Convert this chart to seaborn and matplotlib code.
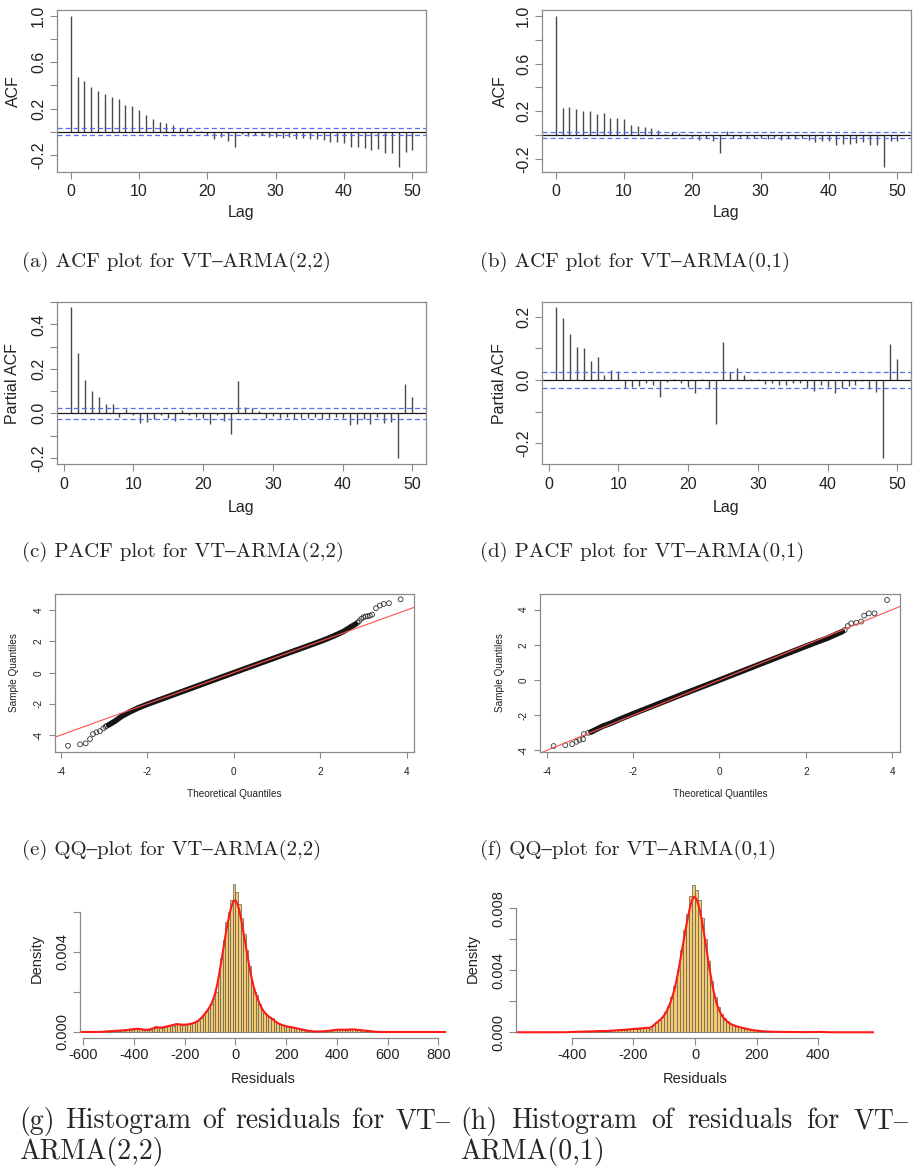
import numpy as np
import pandas as pd
import matplotlib
matplotlib.use("Agg")
import matplotlib.pyplot as plt
import seaborn as sns

W, H = 916, 1166

# ---------------- ACF / PACF ----------------
acf_lags = list(range(0, 51))
pacf_lags = list(range(1, 51))

acf_a = [1.0, 0.475, 0.435, 0.383, 0.354, 0.326, 0.297, 0.280, 0.231, 0.222,
         0.187, 0.141, 0.112, 0.089, 0.078, 0.055, 0.032, 0.032, 0.014, 0.005,
         -0.029, -0.060, -0.049, -0.078, -0.135, -0.023, -0.037, -0.029, -0.029, -0.049,
         -0.043, -0.055, -0.043, -0.060, -0.055, -0.060, -0.060, -0.072, -0.089, -0.084,
         -0.095, -0.130, -0.135, -0.141, -0.158, -0.147, -0.182, -0.182, -0.300, -0.176,
         -0.153]
acf_b = [1.0, 0.229, 0.238, 0.218, 0.201, 0.204, 0.176, 0.182, 0.140, 0.145,
         0.137, 0.084, 0.078, 0.064, 0.062, 0.042, 0.010, 0.022, 0.018, 0.005,
         -0.020, -0.042, -0.025, -0.048, -0.148, 0.036, -0.022, -0.014, -0.022, -0.025,
         -0.022, -0.036, -0.025, -0.042, -0.036, -0.031, -0.025, -0.042, -0.059, -0.048,
         -0.048, -0.081, -0.076, -0.076, -0.070, -0.056, -0.087, -0.087, -0.266, -0.053,
         -0.050]
pacf_c = [0.477, 0.270, 0.150, 0.102, 0.072, 0.042, 0.042, -0.015, 0.018, -0.009,
          -0.045, -0.037, -0.025, -0.006, -0.022, -0.034, 0.015, -0.009, -0.015, -0.022,
          -0.048, -0.006, -0.033, -0.095, 0.146, 0.027, 0.022, 0.012, -0.020, -0.012,
          -0.022, -0.015, -0.025, -0.022, -0.022, -0.015, -0.025, -0.022, -0.015, -0.022,
          -0.052, -0.048, -0.025, -0.048, -0.018, -0.042, -0.037, -0.203, 0.132, 0.072]
pacf_d = [0.229, 0.195, 0.145, 0.105, 0.102, 0.060, 0.072, 0.016, 0.032, 0.027,
          -0.026, -0.021, -0.019, -0.008, -0.016, -0.053, -0.005, 0.004, -0.008, -0.021,
          -0.040, 0.002, -0.029, -0.139, 0.121, 0.024, 0.037, 0.015, 0.002, 0.002,
          -0.014, -0.008, -0.017, -0.015, -0.008, -0.008, -0.026, -0.034, -0.016, -0.021,
          -0.042, -0.026, -0.019, -0.016, -0.002, -0.027, -0.037, -0.247, 0.113, 0.066]
conf_a, conf_b, conf_c, conf_d = 0.029, 0.026, 0.026, 0.026

# ---------------- QQ plots ----------------
e_band_x = [-2.9, -2.75, -2.6, -2.4, -2.2, -2.0, -1.0, 0.0, 1.0, 2.0, 2.2, 2.4, 2.55, 2.7, 2.82]
e_band_y = [-3.35, -3.1, -2.8, -2.5, -2.24, -2.02, -1.01, 0.0, 1.0, 2.0, 2.22, 2.46, 2.66, 2.92, 3.12]
e_tail_x = [-3.84, -3.56, -3.43, -3.33, -3.26, -3.18, -3.10, -3.02, -2.97, -2.94,
            2.86, 2.9, 2.95, 3.0, 3.05, 3.1, 3.15, 3.2, 3.29, 3.38, 3.47, 3.59, 3.86]
e_tail_y = [-4.68, -4.59, -4.53, -4.25, -3.93, -3.82, -3.74, -3.57, -3.46, -3.40,
            3.2, 3.3, 3.45, 3.55, 3.6, 3.62, 3.65, 3.72, 4.13, 4.3, 4.40, 4.45, 4.70]
e_qqline = (1.0, 0.01)   # slope, intercept

f_band_x = [-2.97, -2.85, -2.7, -2.5, -2.3, -2.0, -1.0, 0.0, 1.0, 2.0, 2.3, 2.5, 2.7, 2.85]
f_band_y = [-2.95, -2.8, -2.62, -2.44, -2.22, -1.92, -0.95, 0.0, 0.96, 1.92, 2.2, 2.38, 2.6, 2.76]
f_tail_x = [-3.84, -3.57, -3.41, -3.31, -3.24, -3.16, -3.14, -3.04, -2.97,
            2.9, 2.97, 3.05, 3.17, 3.28, 3.35, 3.46, 3.59, 3.88]
f_tail_y = [-3.75, -3.70, -3.64, -3.51, -3.41, -3.37, -3.07, -3.00, -2.94,
            2.84, 3.07, 3.22, 3.26, 3.32, 3.66, 3.79, 3.79, 4.55]
f_qqline = (1.0, 0.0)

# ---------------- Histograms (density, x1e-4, bins of 10) ----------------
bin_width = 10
g_first_edge = -550
g_dens = ([0.0] * 3 +
          [0.3, 0.3, 0.5, 0.5, 0.6, 0.6, 0.7, 0.8, 0.9, 1.0,
           1.4, 1.2, 1.8, 2.0, 1.5, 1.2, 1.0, 0.9, 1.2, 2.0,
           2.8, 2.4, 2.0, 2.2, 2.6, 3.2, 3.5, 3.2, 4.6, 4.2,
           3.6, 3.5, 3.8, 3.9, 4.2, 4.5, 5.0, 5.5, 7.0, 8.8,
           10.0, 12.0, 14.0, 16.5, 20.0, 28.0, 37.0, 46.0, 55.0, 60.0,
           66.0, 74.0, 70.0, 64.0, 57.0, 49.0, 41.0, 33.0, 25.0, 20.0,
           18.5, 14.0, 11.0, 9.5, 8.5, 7.5, 7.0, 5.5, 4.5, 3.8,
           3.5, 3.2, 2.5, 2.8, 2.4, 2.0, 1.8, 1.5, 1.2, 0.9,
           0.6, 0.4, 0.3, 0.2, 0.2, 0.3, 0.3, 0.4, 0.5, 0.7,
           1.0, 1.2, 1.3, 1.2, 1.2, 1.0, 1.2, 1.4, 1.6, 1.2,
           1.0, 0.9, 0.8, 0.7, 0.5, 0.4, 0.2] +
          [0.0] * 19)
h_first_edge = -540
h_dens = ([0.0] * 13 +
          [0.3, 0.3, 0.3, 0.4, 0.4, 0.5, 0.5, 0.6, 0.7, 0.9,
           0.9, 0.8, 0.8, 1.0, 1.2, 1.4, 1.5, 1.5, 1.7, 2.0,
           2.3, 2.4, 2.4, 2.6, 2.8, 3.5, 2.0, 5.0, 6.5, 8.0,
           10.0, 13.0, 17.0, 23.0, 30.0, 40.0, 53.0, 66.0, 76.0, 88.0,
           95.0, 92.0, 85.0, 74.0, 60.0, 46.0, 33.0, 23.0, 16.0, 12.0,
           9.0, 7.0, 5.6, 4.8, 4.0, 3.4, 3.0, 2.4, 2.0, 1.5,
           1.2, 1.0, 0.8, 0.6, 0.5, 0.4, 0.3, 0.3, 0.2, 0.2,
           0.2, 0.2, 0.2, 0.2, 0.1, 0.1, 0.1, 0.1, 0.1, 0.1,
           0.2, 0.3, 0.3] +
          [0.0] * 12)

captions = {
    "a": "(a) ACF plot for VT\u2013ARMA(2,2)",
    "b": "(b) ACF plot for VT\u2013ARMA(0,1)",
    "c": "(c) PACF plot for VT\u2013ARMA(2,2)",
    "d": "(d) PACF plot for VT\u2013ARMA(0,1)",
    "e": "(e) QQ\u2013plot for VT\u2013ARMA(2,2)",
    "f": "(f) QQ\u2013plot for VT\u2013ARMA(0,1)",
}
hist_captions = {
    "g": ("(g) Histogram of residuals for VT\u2013", "ARMA(2,2)"),
    "h": ("(h) Histogram of residuals for VT\u2013", "ARMA(0,1)"),
}

sns.set_theme(style="white")
plt.rcParams["font.family"] = ["Liberation Sans", "DejaVu Sans"]
plt.rcParams["axes.unicode_minus"] = False

GRAY = "#8a8a8a"
TXT = "#222222"
CAP_FONT = ["cmr10", "STIXGeneral"]

fig = plt.figure(figsize=(W / 100, H / 100), dpi=100)
fig.patch.set_facecolor("white")


def add_ax(x0, y0, x1, y1):
    ax = fig.add_axes([x0 / W, 1 - y1 / H, (x1 - x0) / W, (y1 - y0) / H])
    ax.set_facecolor("white")
    return ax, (x0, y0, x1, y1)


def place_labels(ax, box, xlabel, ylabel, xlab_y, ylab_x, size):
    x0, y0, x1, y1 = box
    ax.set_xlabel(xlabel, fontsize=size, color=TXT)
    ax.set_ylabel(ylabel, fontsize=size, color=TXT)
    ax.xaxis.label.set_va("center")
    ax.yaxis.label.set_va("center")
    ax.xaxis.set_label_coords(0.5, (y1 - xlab_y) / (y1 - y0))
    ax.yaxis.set_label_coords((ylab_x - x0) / (x1 - x0), 0.5)


def r_style(ax, size, ticklen, xpad, ypad, box=True):
    for s in ax.spines.values():
        s.set_color(GRAY)
        s.set_linewidth(0.9)
        s.set_visible(box)
    ax.tick_params(axis="both", direction="out", length=ticklen, width=0.8,
                   color=GRAY, labelcolor=TXT, labelsize=size,
                   bottom=True, left=True)
    ax.tick_params(axis="x", pad=xpad)
    ax.tick_params(axis="y", pad=ypad, labelrotation=90)
    for lbl in ax.get_yticklabels():
        lbl.set_va("center")


def acf_panel(ax, box, lags, vals, conf, xlim, ylim, yticks, ylabels, ylabel, xlab_y, ylab_x):
    ax.vlines(lags, 0, vals, color="#4a4a4a", lw=1.0)
    ax.axhline(0, color="#1a1a1a", lw=0.9)
    for c in (conf, -conf):
        ax.axhline(c, color="#5b6cf5", lw=0.9, ls=(0, (4, 2.5)))
    ax.set_xlim(*xlim)
    ax.set_ylim(*ylim)
    ax.set_xticks([0, 10, 20, 30, 40, 50])
    ax.set_yticks(yticks)
    ax.set_yticklabels(ylabels)
    r_style(ax, 11.5, 5, 4, 3)
    place_labels(ax, box, "Lag", ylabel, xlab_y, ylab_x, 11.5)


def qq_panel(ax, box, band_x, band_y, tail_x, tail_y, qqline, xlim, ylim, ylab_x):
    sns.lineplot(x=band_x, y=band_y, sort=False, color="#151515", lw=4.0,
                 solid_capstyle="round", ax=ax)
    sns.scatterplot(x=tail_x, y=tail_y, marker="o", s=12, fc="none",
                    ec="#333333", linewidth=0.6, ax=ax)
    ax.axline((0, qqline[1]), slope=qqline[0], color="#ff5050", lw=0.8)
    ax.set_xlim(*xlim)
    ax.set_ylim(*ylim)
    ax.set_xticks([-4, -2, 0, 2, 4])
    ax.set_yticks([-4, -2, 0, 2, 4])
    r_style(ax, 7.2, 4, 7, 4)
    place_labels(ax, box, "Theoretical Quantiles", "Sample Quantiles", 794, ylab_x, 7.2)


def hist_panel(ax, box, first_edge, dens, bw, xlim, ylim, xticks, yticks, ylabels,
               xbounds, ybounds, ylab_x):
    n = len(dens)
    edges = [first_edge + bin_width * i for i in range(n + 1)]
    df = pd.DataFrame({"resid": [e + bin_width / 2 for e in edges[:-1]],
                       "dens": [v * 1e-4 for v in dens]})
    sns.histplot(data=df, x="resid", weights="dens", bins=edges, stat="count",
                 color="#f6c96c", edgecolor="#5e5e5e", linewidth=0.5, alpha=1, ax=ax)
    sns.kdeplot(data=df, x="resid", weights="dens", bw_method=bw, cut=3,
                color="#ff1a1a", lw=1.5, ax=ax)
    ax.set_xlim(*xlim)
    ax.set_ylim(*ylim)
    ax.set_xticks(xticks)
    ax.set_yticks(yticks)
    ax.set_yticklabels(ylabels)
    r_style(ax, 10.5, 5, 2, 3)
    ax.spines["top"].set_visible(False)
    ax.spines["right"].set_visible(False)
    ax.spines["bottom"].set_bounds(*xbounds)
    ax.spines["left"].set_bounds(*ybounds)
    place_labels(ax, box, "Residuals", "Density", 1079, ylab_x, 10.5)


# --- row 1: ACF
ax, box = add_ax(57, 10, 426, 172)
acf_panel(ax, box, acf_lags, acf_a, conf_a, (-2, 52), (-0.347, 1.052),
          [-0.2, 0.0, 0.2, 0.4, 0.6, 0.8, 1.0], ["-0.2", "", "0.2", "", "0.6", "", "1.0"],
          "ACF", 213, 13)
ax, box = add_ax(542, 10, 911, 172)
acf_panel(ax, box, acf_lags, acf_b, conf_b, (-2, 52), (-0.31, 1.05),
          [-0.2, 0.0, 0.2, 0.4, 0.6, 0.8, 1.0], ["-0.2", "", "0.2", "", "0.6", "", "1.0"],
          "ACF", 213, 500)

# --- row 2: PACF
ax, box = add_ax(57, 302, 426, 464)
acf_panel(ax, box, pacf_lags, pacf_c, conf_c, (-0.96, 51.96), (-0.228, 0.501),
          [-0.2, -0.1, 0.0, 0.1, 0.2, 0.3, 0.4, 0.5], ["-0.2", "", "0.0", "", "0.2", "", "0.4", ""],
          "Partial ACF", 507, 13)
ax, box = add_ax(542, 302, 911, 464)
acf_panel(ax, box, pacf_lags, pacf_d, conf_d, (-0.96, 51.96), (-0.265, 0.246),
          [-0.2, -0.1, 0.0, 0.1, 0.2], ["-0.2", "", "0.0", "", "0.2"],
          "Partial ACF", 507, 500)

# --- row 3: QQ
ax, box = add_ax(55, 594, 414, 752)
qq_panel(ax, box, e_band_x, e_band_y, e_tail_x, e_tail_y, e_qqline,
         (-4.14, 4.17), (-5.08, 5.04), 14)
ax, box = add_ax(540, 594, 900, 752)
qq_panel(ax, box, f_band_x, f_band_y, f_tail_x, f_tail_y, f_qqline,
         (-4.155, 4.18), (-4.09, 4.89), 500)

# --- row 4: histograms
ax, box = add_ax(80, 878, 446, 1038)
hist_panel(ax, box, g_first_edge, g_dens, 0.11, (-613, 830), (-0.0003, 0.0077),
           [-600, -400, -200, 0, 200, 400, 600, 800],
           [0, 0.002, 0.004, 0.006], ["0.000", "", "0.004", ""],
           (-600, 800), (0, 0.006), 37)
ax, box = add_ax(516, 878, 874, 1038)
hist_panel(ax, box, h_first_edge, h_dens, 0.11, (-582, 582), (-0.00037, 0.00995),
           [-400, -200, 0, 200, 400],
           [0, 0.002, 0.004, 0.006, 0.008], ["0.000", "", "0.004", "", "0.008"],
           (-400, 400), (0, 0.008), 473)

# --- captions
cap_pos = {"a": (22, 262), "b": (480, 262), "c": (22, 552), "d": (480, 552),
           "e": (22, 850), "f": (480, 850)}
for k, s in captions.items():
    x, y = cap_pos[k]
    fig.text(x / W, 1 - y / H, s, fontsize=15, family=CAP_FONT, va="center", ha="left")

HIST_CAP_SIZE = 20


def justified(words, x0, x1, y):
    texts = [fig.text(0, 0, w, fontsize=HIST_CAP_SIZE, family=CAP_FONT, va="center", ha="left")
             for w in words]
    r = fig.canvas.get_renderer()
    widths = [t.get_window_extent(r).width for t in texts]
    gap = ((x1 - x0) - sum(widths)) / (len(words) - 1)
    x = x0
    for t, wd in zip(texts, widths):
        t.set_position((x / W, 1 - y / H))
        x += wd + gap


hist_cap_pos = {"g": (19, 450), "h": (460, 908)}
for k, (line1, line2) in hist_captions.items():
    x0, x1 = hist_cap_pos[k]
    justified(line1.split(" "), x0, x1, 1121)
    fig.text(x0 / W, 1 - 1152 / H, line2, fontsize=HIST_CAP_SIZE, family=CAP_FONT,
             va="center", ha="left")

fig.savefig("out.png", dpi=100, facecolor="white")
